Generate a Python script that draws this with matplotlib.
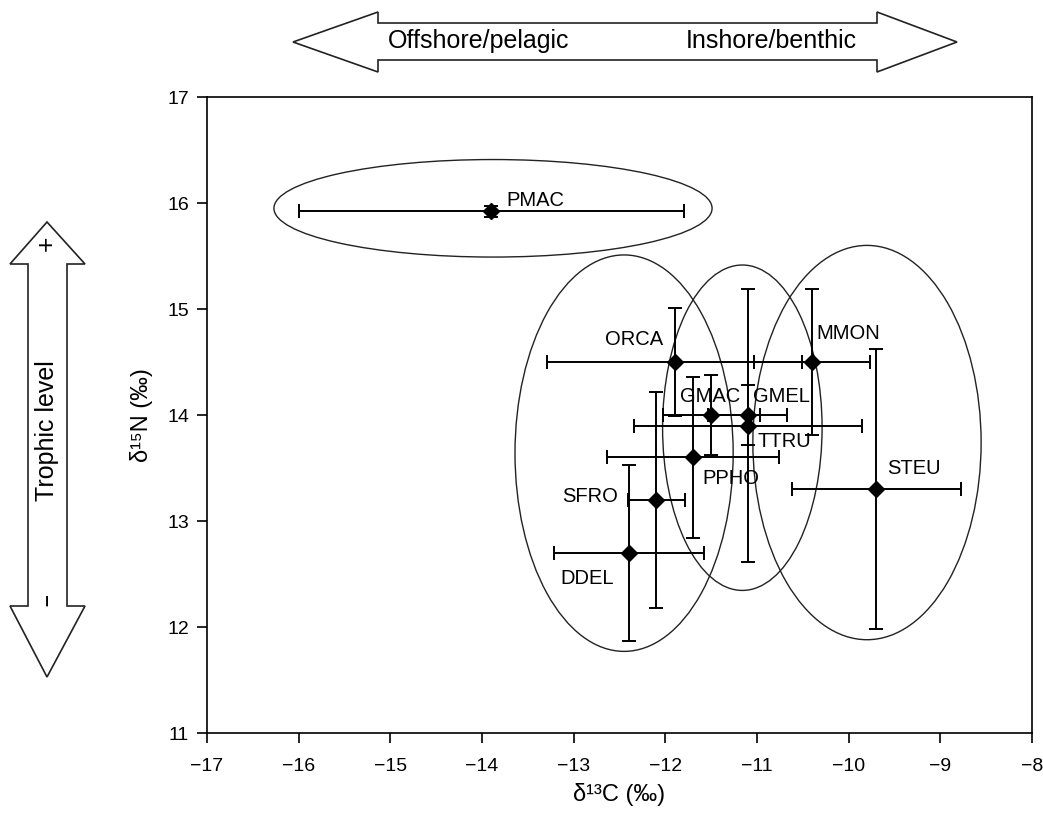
import matplotlib.pyplot as plt
import numpy as np
from matplotlib.patches import Ellipse, Polygon

plt.rcParams['font.family'] = ['Liberation Sans', 'DejaVu Sans']

# isotope means and SD per species
species = ['PMAC', 'ORCA', 'MMON', 'GMAC', 'GMEL', 'TTRU', 'PPHO', 'SFRO', 'DDEL', 'STEU']
d13c = [-13.9, -11.9, -10.4, -11.5, -11.1, -11.1, -11.7, -12.1, -12.4, -9.7]
d13c_sd = [2.1, 1.39, 0.63, 0.53, 0.43, 1.24, 0.94, 0.31, 0.82, 0.92]
d15n = [15.92, 14.5, 14.5, 14.0, 14.0, 13.9, 13.6, 13.2, 12.7, 13.3]
d15n_sd = [0.05, 0.51, 0.69, 0.38, 0.28, 1.29, 0.76, 1.02, 0.83, 1.32]

# label anchors (left edge, middle)
label_x = [-13.73, -12.66, -10.35, -11.84, -11.04, -11.0, -11.6, -13.13, -13.14, -9.58]
label_y = [16.02, 14.71, 14.77, 14.17, 14.17, 13.75, 13.40, 13.23, 12.46, 13.50]

# group ellipses: centre x, centre y, width, height
ell_x = [-13.88, -12.45, -11.16, -9.80]
ell_y = [15.95, 13.64, 13.88, 13.74]
ell_w = [4.78, 2.38, 1.74, 2.49]
ell_h = [0.92, 3.74, 3.07, 3.72]

xticks = list(range(-17, -7))
yticks = list(range(11, 18))

W, H = 1043, 814
fig = plt.figure(figsize=(W / 100, H / 100), dpi=100)
ax = fig.add_axes([207 / W, 1 - 733 / H, (1032 - 207) / W, (733 - 97) / H])

for cx, cy, w, h in zip(ell_x, ell_y, ell_w, ell_h):
    ax.add_patch(Ellipse((cx, cy), w, h, fill=False, edgecolor='#222222', lw=1.0))

ax.errorbar(d13c, d15n, xerr=d13c_sd, yerr=d15n_sd, fmt='D', color='black',
            ms=8.5, elinewidth=1.4, capsize=5, capthick=1.4, zorder=3)

for name, lx, ly in zip(species, label_x, label_y):
    ax.text(lx, ly, name, ha='left', va='center', fontsize=14.5)

ax.set_xlim(-17, -8)
ax.set_ylim(11, 17)
ax.set_xticks(xticks)
ax.set_yticks(yticks)
ax.tick_params(direction='out', length=7, width=1.2, labelsize=14, colors='black')
ax.tick_params(axis='x', pad=11)
ax.tick_params(axis='y', pad=6)
for s in ax.spines.values():
    s.set_linewidth(1.2)
ax.set_xlabel('\u03b4\u00b9\u00b3C (\u2030)', fontsize=17, labelpad=6)
ax.set_ylabel('\u03b4\u00b9\u2075N (\u2030)', fontsize=17, labelpad=10)

# overlay in pixel coordinates for the hollow arrows
ov = fig.add_axes([0, 0, 1, 1], zorder=-1)
ov.set_xlim(0, W)
ov.set_ylim(H, 0)
ov.axis('off')

top = [(293, 42), (378, 12), (378, 23), (877, 23), (877, 12), (957, 42),
       (877, 72), (877, 60), (378, 60), (378, 72)]
ov.add_patch(Polygon(top, closed=True, fill=False, edgecolor='#222222', lw=1.2))
ov.text(388, 41, 'Offshore/pelagic', ha='left', va='center', fontsize=18)
ov.text(857, 41, 'Inshore/benthic', ha='right', va='center', fontsize=18)

left = [(47, 222), (85, 264), (67, 264), (67, 606), (85, 606), (47, 677),
        (10, 606), (28, 606), (28, 264), (10, 264)]
ov.add_patch(Polygon(left, closed=True, fill=False, edgecolor='#222222', lw=1.2))
ov.text(47, 243, '+', ha='center', va='center', fontsize=19, rotation=90)
ov.text(47, 600, '\u2013', ha='center', va='center', fontsize=15, rotation=90,
        fontweight='bold')
ov.text(47, 431, 'Trophic level', ha='center', va='center', fontsize=18, rotation=90)

fig.savefig('out.png', dpi=100)
